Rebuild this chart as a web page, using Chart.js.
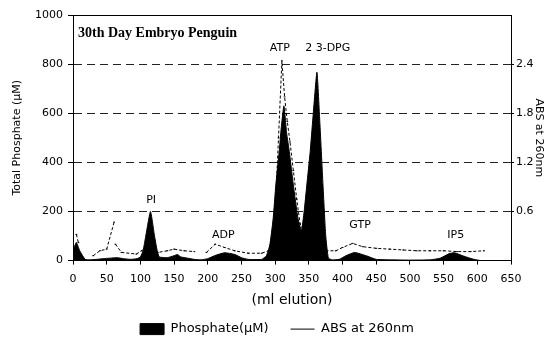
<!DOCTYPE html>
<html>
<head>
<meta charset="utf-8">
<script src="https://cdn.jsdelivr.net/npm/chart.js@4.4.1/dist/chart.umd.min.js"></script>
<style>
  html, body { margin: 0; padding: 0; background: #fff; }
  #wrap { width: 554px; height: 341px; }
</style>
</head>
<body>
<div id="wrap"><canvas id="elutionChart"></canvas></div>
<script>
/* Data */

const phosphateMl = [0, 2, 5, 10, 18, 25, 35, 45, 55, 65, 75, 85, 95, 100, 104, 108, 115, 121, 125, 128, 140, 150, 155, 160, 170, 180, 190, 200, 210, 225, 240, 250, 260, 280, 287, 292, 297, 301, 306, 309, 313, 317, 321, 327, 334, 339, 343, 347, 352, 356, 362, 366, 371, 375, 379, 385, 395, 405, 418, 435, 450, 470, 500, 530, 545, 558, 566, 580, 595, 605];
const phosphateValues = [30, 55, 74, 40, 5, 3, 5, 8, 10, 12, 8, 5, 8, 15, 40, 100, 200, 100, 40, 15, 12, 20, 25, 15, 10, 5, 3, 8, 20, 32, 25, 12, 5, 5, 20, 62, 170, 308, 444, 540, 630, 520, 444, 308, 170, 123, 200, 308, 444, 580, 767, 580, 308, 103, 10, 3, 5, 20, 33, 20, 5, 3, 2, 3, 10, 28, 32, 18, 5, 0];

const absMl = [5, 8, 12, 30, 40, 50, 61, 62, 63, 72, 94, 102, 112, 126, 140, 150, 165, 180, 190, 198, 211, 225, 240, 260, 280, 290, 296, 300, 305, 310, 314, 318, 322, 327, 332, 337, 350, 365, 375, 390, 400, 415, 430, 450, 470, 490, 510, 530, 550, 570, 590, 610];
const absValues = [0.32, 0.22, null, 0.06, 0.12, 0.14, 0.47, null, 0.2, 0.1, 0.08, 0.12, 0.2, 0.1, 0.12, 0.14, 0.12, 0.11, null, 0.1, 0.2, 0.16, 0.12, 0.09, 0.09, 0.12, 0.3, 0.6, 1.5, 2.44, 2.0, 1.7, 1.45, 1.1, 0.75, 0.45, 0.25, 0.18, 0.12, 0.12, 0.16, 0.21, 0.17, 0.15, 0.14, 0.13, 0.12, 0.12, 0.12, 0.11, 0.11, 0.12];

const xTicks = [0, 50, 100, 150, 200, 250, 300, 350, 400, 450, 500, 550, 600, 650];
const phosphateTicks = [0, 200, 400, 600, 800, 1000];
const absTicks = [0.6, 1.2, 1.8, 2.4];

const peakNames = ["PI", "ADP", "ATP", "2 3-DPG", "GTP", "IP5"];
const peakMl = [116, 223, 307, 378, 426, 568];
const peakLabelLevel = [247, 103, 865, 865, 144, 103];

const chartTitle = "30th Day Embryo Penguin";

/* Peak names and panel title */

const labelPlugin = {
  id: "peakLabels",
  afterDatasetsDraw(chart) {
    const ctx = chart.ctx;
    const x = chart.scales.x;
    const y = chart.scales.y;

    ctx.save();
    ctx.fillStyle = "#000";
    ctx.textAlign = "center";
    ctx.textBaseline = "middle";
    ctx.font = "11px 'DejaVu Sans'";

    peakNames.forEach((name, i) => {
      ctx.fillText(name, x.getPixelForValue(peakMl[i]), y.getPixelForValue(peakLabelLevel[i]));
    });

    ctx.textAlign = "left";
    ctx.font = "bold 14px 'Liberation Serif'";
    ctx.fillText(chartTitle, chart.chartArea.left + 5, y.getPixelForValue(924));
    ctx.restore();
  },
};

const elutionCanvas = document.getElementById("elutionChart");

new Chart(elutionCanvas, {
  type: "line",
  data: {
    datasets: [
      {
        label: "Phosphate(\u00b5M)",
        data: phosphateMl.map((ml, i) => ({ x: ml, y: phosphateValues[i] })),
        yAxisID: "y",
        borderColor: "#000",
        backgroundColor: "#000",
        borderWidth: 1,
        fill: "origin",
        pointRadius: 0,
        tension: 0.15,
        order: 1,
        pointStyle: "rect",
      },
      {
        label: "ABS at 260nm",
        data: absMl.map((ml, i) => ({ x: ml, y: absValues[i] })),
        yAxisID: "y1",
        borderColor: "#000",
        backgroundColor: "#000",
        borderWidth: 1,
        borderDash: [3, 2],
        fill: false,
        pointRadius: 0.9,
        spanGaps: false,
        order: 0,
        pointStyle: "line",
      },
    ],
  },
  options: {
    responsive: true,
    maintainAspectRatio: false,
    animation: false,
    layout: {
      padding: { top: 7, left: 0, right: 0, bottom: -4.6 },
    },
    plugins: {
      legend: {
        position: "bottom",
        labels: {
          usePointStyle: true,
          pointStyleWidth: 24,
          boxHeight: 11,
          color: "#000",
          padding: 22,
          font: { family: "DejaVu Sans", size: 13 },
          sort: (a, b) => a.datasetIndex - b.datasetIndex,
          generateLabels: function (chart) {
            const items = Chart.defaults.plugins.legend.labels.generateLabels(chart);
            items.forEach((item) => {
              if (item.datasetIndex === 1) {
                item.lineDash = [];
              }
            });
            return items;
          },
        },
      },
      tooltip: { enabled: false },
    },
    scales: {
      x: {
        type: "linear",
        min: 0,
        max: 650,
        afterBuildTicks: (scale) => {
          scale.ticks = xTicks.map((v) => ({ value: v }));
        },
        afterFit: (scale) => {
          scale.height = 40;
        },
        ticks: {
          color: "#000",
          font: { family: "DejaVu Sans", size: 11 },
          maxRotation: 0,
          padding: 8,
          callback: (value) => String(value),
        },
        grid: { drawOnChartArea: false, color: "#000", tickLength: 4 },
        border: { color: "#000", width: 1 },
        title: {
          display: true,
          text: "(ml elution)",
          color: "#000",
          font: { family: "DejaVu Sans", size: 14 },
          padding: { top: 0, bottom: -8 },
        },
      },
      xTop: {
        type: "linear",
        position: "top",
        min: 0,
        max: 650,
        ticks: { display: false },
        grid: { display: false },
        border: { color: "#000", width: 1 },
      },
      y: {
        position: "left",
        min: 0,
        max: 1000,
        afterBuildTicks: (scale) => {
          scale.ticks = phosphateTicks.map((v) => ({ value: v }));
        },
        afterFit: (scale) => {
          scale.width = 73;
        },
        ticks: {
          color: "#000",
          font: { family: "DejaVu Sans", size: 11 },
          padding: 5,
          callback: (value) => String(value),
        },
        grid: {
          color: (ctx) => (ctx.tick && (ctx.tick.value === 0 || ctx.tick.value === 1000) ? "rgba(0,0,0,0)" : "#222"),
          tickColor: "#000",
          tickLength: 5,
          lineWidth: 1,
        },
        border: { color: "#000", width: 1, dash: [8, 5] },
        title: {
          display: true,
          text: "Total Phosphate (\u00b5M)",
          color: "#000",
          font: { family: "DejaVu Sans", size: 11 },
          padding: { top: 11, bottom: 0 },
        },
      },
      y1: {
        position: "right",
        min: 0,
        max: 3,
        afterBuildTicks: (scale) => {
          scale.ticks = absTicks.map((v) => ({ value: v }));
        },
        afterFit: (scale) => {
          scale.width = 43;
        },
        ticks: {
          color: "#000",
          font: { family: "DejaVu Sans", size: 11 },
          padding: 2,
          callback: (value) => value.toFixed(1),
        },
        grid: { drawOnChartArea: false, color: "#000", tickLength: 3 },
        border: { color: "#000", width: 1 },
        title: {
          display: true,
          text: "ABS at 260nm",
          color: "#000",
          font: { family: "DejaVu Sans", size: 11 },
          padding: { top: 9, bottom: 0 },
        },
      },
    },
  },
  plugins: [labelPlugin],
});
</script>
</body>
</html>
